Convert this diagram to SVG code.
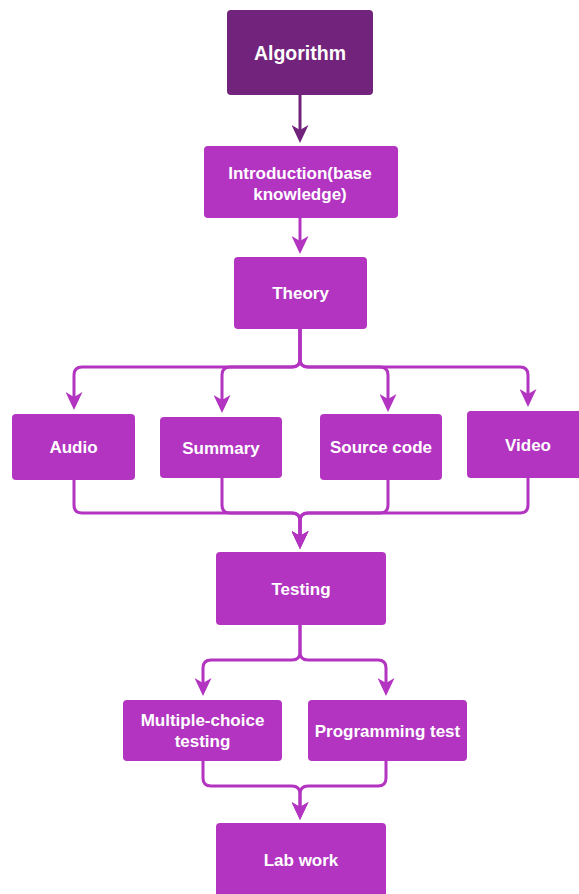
<svg xmlns="http://www.w3.org/2000/svg" width="579" height="894" viewBox="0 0 579 894">
  <style>
    .node { fill: #b234c1; }
    .root { fill: #72237b; }
    .label { fill: #ffffff; font-family: "Liberation Sans", Arial, sans-serif; font-weight: bold; font-size: 17px; text-anchor: middle; }
    .big { font-size: 19.5px; }
    .edge { fill: none; stroke: #b234c1; stroke-width: 3; marker-end: url(#arrow); }
    .edge-dark { fill: none; stroke: #72237b; stroke-width: 3; marker-end: url(#arrow-dark); }
  </style>
  <defs>
    <marker id="arrow" viewBox="0 0 18 17" refX="5" refY="8.5" markerWidth="18" markerHeight="17" markerUnits="userSpaceOnUse" orient="auto">
      <path d="M0,0 L18,8.5 L0,17 L5,8.5 z" fill="#b234c1"/>
    </marker>
    <marker id="arrow-dark" viewBox="0 0 18 17" refX="5" refY="8.5" markerWidth="18" markerHeight="17" markerUnits="userSpaceOnUse" orient="auto">
      <path d="M0,0 L18,8.5 L0,17 L5,8.5 z" fill="#72237b"/>
    </marker>
  </defs>

  <rect width="579" height="894" fill="#ffffff"/>

  <g id="connectors">
    <path class="edge-dark" d="M300,95 V130"/>
    <path class="edge" d="M300,218 V241"/>
    <!-- Theory fan-out -->
    <path class="edge" d="M300,329 V359 Q300,367 292,367 H82 Q74,367 74,375 V397"/>
    <path class="edge" d="M300,329 V359 Q300,367 292,367 H230 Q222,367 222,375 V400"/>
    <path class="edge" d="M300,329 V359 Q300,367 308,367 H380 Q388,367 388,375 V399"/>
    <path class="edge" d="M300,329 V359 Q300,367 308,367 H520 Q528,367 528,375 V394"/>
    <!-- Merge into Testing -->
    <path class="edge" d="M74,480 V505 Q74,513 82,513 H292 Q300,513 300,521 V536"/>
    <path class="edge" d="M222,478 V505 Q222,513 230,513 H292 Q300,513 300,521 V536"/>
    <path class="edge" d="M388,480 V505 Q388,513 380,513 H308 Q300,513 300,521 V536"/>
    <path class="edge" d="M528,478 V505 Q528,513 520,513 H308 Q300,513 300,521 V536"/>
    <!-- Testing fan-out -->
    <path class="edge" d="M300,625 V652 Q300,660 292,660 H211 Q203,660 203,668 V683"/>
    <path class="edge" d="M300,625 V652 Q300,660 308,660 H378 Q386,660 386,668 V683"/>
    <!-- Merge into Lab work -->
    <path class="edge" d="M203,761 V778 Q203,786 211,786 H292 Q300,786 300,794 V807"/>
    <path class="edge" d="M386,761 V778 Q386,786 378,786 H308 Q300,786 300,794 V807"/>
  </g>

  <g id="algorithm">
    <rect class="root" x="227" y="10" width="146" height="85" rx="4"/>
    <text class="label big" x="300" y="59.5">Algorithm</text>
  </g>
  <g id="introduction">
    <rect class="node" x="204" y="146" width="194" height="72" rx="4"/>
    <text class="label" x="300" y="179">Introduction(base</text>
    <text class="label" x="300" y="200">knowledge)</text>
  </g>
  <g id="theory">
    <rect class="node" x="234" y="257" width="133" height="72" rx="4"/>
    <text class="label" x="300.5" y="299">Theory</text>
  </g>
  <g id="audio">
    <rect class="node" x="12" y="414" width="123" height="66" rx="4"/>
    <text class="label" x="73.5" y="453">Audio</text>
  </g>
  <g id="summary">
    <rect class="node" x="160" y="417" width="122" height="61" rx="4"/>
    <text class="label" x="221" y="453.5">Summary</text>
  </g>
  <g id="source-code">
    <rect class="node" x="320" y="414" width="122" height="66" rx="4"/>
    <text class="label" x="381" y="453">Source code</text>
  </g>
  <g id="video">
    <rect class="node" x="467" y="411" width="122" height="67" rx="4"/>
    <text class="label" x="528" y="450.5">Video</text>
  </g>
  <g id="testing">
    <rect class="node" x="216" y="552" width="170" height="73" rx="4"/>
    <text class="label" x="301" y="594.5">Testing</text>
  </g>
  <g id="multiple-choice">
    <rect class="node" x="123" y="700" width="159" height="61" rx="4"/>
    <text class="label" x="202.5" y="726">Multiple-choice</text>
    <text class="label" x="202.5" y="747">testing</text>
  </g>
  <g id="programming-test">
    <rect class="node" x="308" y="700" width="159" height="61" rx="4"/>
    <text class="label" x="387.5" y="736.5">Programming test</text>
  </g>
  <g id="lab-work">
    <rect class="node" x="216" y="823" width="170" height="80" rx="4"/>
    <text class="label" x="301" y="866">Lab work</text>
  </g>
</svg>
